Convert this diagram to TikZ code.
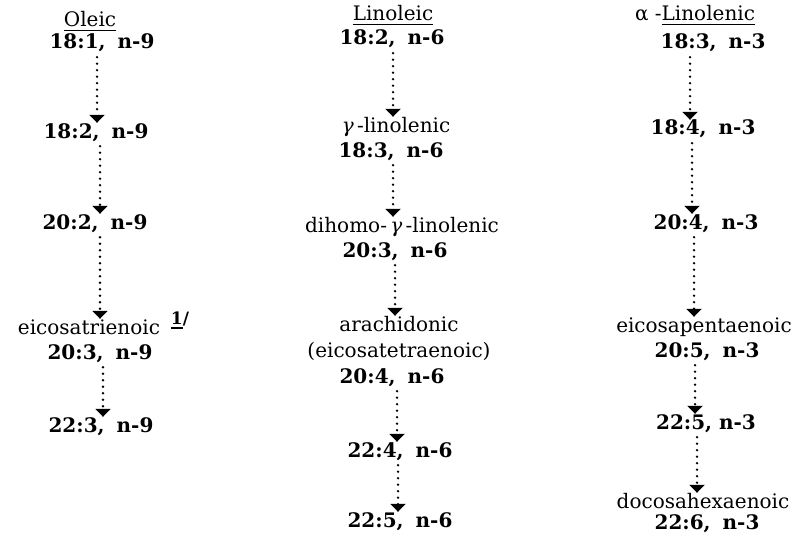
\documentclass[tikz,border=0pt]{standalone}
\usepackage{fontspec}
\setmainfont{DejaVu Serif}
\usetikzlibrary{arrows.meta}
\newcommand\myul[1]{\setbox0\hbox{#1}\rlap{\rule[-4.5pt]{\wd0}{1.6pt}}\box0}
\tikzset{
  lbl/.style={inner sep=0pt, text height=14pt, text depth=4pt, font=\fontsize{20}{22}\selectfont},
  num/.style={inner sep=0pt, text height=14pt, text depth=4pt, font=\fontsize{20}{22}\selectfont\bfseries},
  arr/.style={line width=2.6pt, dash pattern=on 0pt off 6.5pt, line cap=round,
    -{Triangle[width=15pt,length=8pt]}, shorten <=4pt, shorten >=1pt},
}
\begin{document}
\begin{tikzpicture}[x=1pt,y=-1pt]
\useasboundingbox (0,0) rectangle (793,535);
% Oleic column
\node[lbl] (o0) at (90,22) {\myul{Oleic}};
\node[num] (o1) at (102,44) {18:1,\hspace{.6em}n-9};
\node[num] (o2) at (96,133) {18:2,\hspace{.6em}n-9};
\node[num] (o3) at (95,224) {20:2,\hspace{.6em}n-9};
\node[lbl] (o4) at (89,329) {eicosatrienoic};
\node[inner sep=0pt, font=\fontsize{17}{17}\selectfont\bfseries] (fn) at (180,320) {\myul{1}/};
\node[num] (o5) at (100,354) {20:3,\hspace{.6em}n-9};
\node[num] (o6) at (101,427) {22:3,\hspace{.6em}n-9};
\draw[arr] (o1.south -| 97,0) -- (o2.north -| 97,0);
\draw[arr] (o2.south -| 100,0) -- (o3.north -| 100,0);
\draw[arr] (o3.south -| 100,0) -- (o4.north -| 100,0);
\draw[arr] (o5.south -| 103,0) -- (o6.north -| 103,0);
% Linoleic column
\node[lbl] (l0) at (393,16) {\myul{Linoleic}};
\node[num] (l1) at (392,40) {18:2,\hspace{.6em}n-6};
\node[lbl] (l2) at (396,127) {\textit{γ}\,-linolenic};
\node[num] (l3) at (391,152) {18:3,\hspace{.6em}n-6};
\node[lbl] (l4) at (402,227) {dihomo-\,\textit{γ}\,-linolenic};
\node[num] (l5) at (395,252) {20:3,\hspace{.6em}n-6};
\node[lbl] (l6) at (399,326) {arachidonic};
\node[lbl] (l7) at (399,352) {(eicosatetraenoic)};
\node[num] (l8) at (392,378) {20:4,\hspace{.6em}n-6};
\node[num] (l9) at (400,452) {22:4,\hspace{.6em}n-6};
\node[num] (l10) at (400,522) {22:5,\hspace{.6em}n-6};
\draw[arr] (l1.south -| 393,0) -- (l2.north -| 393,0);
\draw[arr] (l3.south -| 393,0) -- (l4.north -| 393,0);
\draw[arr] (l5.south -| 395,0) -- (l6.north -| 395,0);
\draw[arr] (l8.south -| 397,0) -- (l9.north -| 397,0);
\draw[arr] (l9.south -| 398,0) -- (l10.north -| 398,0);
% alpha-Linolenic column
\node[lbl] (a0) at (695,16) {α -\myul{Linolenic}};
\node[num] (a1) at (713,44) {18:3,\hspace{.6em}n-3};
\node[num] (a2) at (703,130) {18:4,\hspace{.6em}n-3};
\node[num] (a3) at (706,224) {20:4,\hspace{.6em}n-3};
\node[lbl] (a4) at (704,327) {eicosapentaenoic};
\node[num] (a5) at (707,352) {20:5,\hspace{.6em}n-3};
\node[num] (a6) at (706,424) {22:5, n-3};
\node[lbl] (a7) at (703,503) {docosahexaenoic};
\node[num] (a8) at (707,524) {22:6,\hspace{.6em}n-3};
\draw[arr] (a1.south -| 690,0) -- (a2.north -| 690,0);
\draw[arr] (a2.south -| 692,0) -- (a3.north -| 692,0);
\draw[arr] (a3.south -| 694,0) -- (a4.north -| 694,0);
\draw[arr] (a5.south -| 695,0) -- (a6.north -| 695,0);
\draw[arr] (a6.south -| 697,0) -- (a7.north -| 697,0);
\end{tikzpicture}
\end{document}
